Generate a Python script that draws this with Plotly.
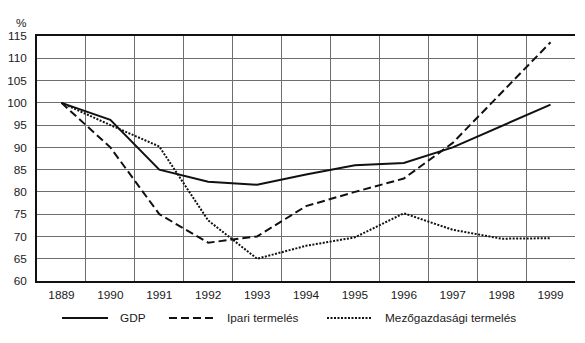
import plotly.graph_objects as go

years = ["1889", "1990", "1991", "1992", "1993", "1994", "1995", "1996", "1997", "1998", "1999"]
gdp = [100, 96.2, 85, 82.3, 81.6, 83.9, 86, 86.5, 90, 94.8, 99.6]
ipari = [100, 90, 75, 68.6, 70, 76.8, 80, 83, 91, 102.2, 113.6]
mezo = [100, 95, 90.2, 73.6, 65, 67.9, 69.8, 75.2, 71.5, 69.5, 69.6]
series_names = ["GDP", "Ipari termelés", "Mezőgazdasági termelés"]

FONT = "Liberation Sans, Arial, sans-serif"
FS = 11.8
styles = [
    dict(color="#111111", width=2, dash="solid"),
    dict(color="#111111", width=2, dash="8px,4px"),
    dict(color="#111111", width=2, dash="2px,1.5px"),
]

fig = go.Figure()
for name, vals, st in zip(series_names, [gdp, ipari, mezo], styles):
    fig.add_trace(go.Scatter(x=years, y=vals, mode="lines", name=name, line=st,
                             showlegend=False))

# manual legend (plot area: x 37..575 px, y 36..281 px)
L, W, B, H = 37, 538, 281, 245
def px(x):
    return (x - L) / W
def py(y):
    return (B - y) / H

leg_items = [(62, 108, 118), (169, 215, 225), (327, 372, 383)]
for (x0, x1, tx), name, st in zip(leg_items, series_names, styles):
    fig.add_shape(type="line", xref="paper", yref="paper",
                  x0=px(x0), x1=px(x1), y0=py(318), y1=py(318),
                  line=dict(color=st["color"], width=st["width"], dash=st["dash"]))
    fig.add_annotation(xref="paper", yref="paper", x=px(tx), y=py(318),
                       text=name, showarrow=False, xanchor="left", yanchor="middle",
                       font=dict(family=FONT, size=FS, color="#1a1a1a"))

fig.add_annotation(xref="paper", yref="paper", x=px(21), y=py(23), text="%",
                   showarrow=False, xanchor="center", yanchor="middle",
                   font=dict(family=FONT, size=FS, color="#1a1a1a"))

fig.update_layout(
    width=585, height=343,
    margin=dict(l=37, r=10, t=36, b=62, autoexpand=False),
    paper_bgcolor="white", plot_bgcolor="white",
    font=dict(family=FONT, size=FS, color="#1a1a1a"),
    xaxis=dict(type="category", tickson="boundaries", showgrid=True, automargin=False,
               gridcolor="#6e6e6e", gridwidth=1.3, showline=True, linecolor="#111111",
               linewidth=1.5, mirror=True, ticks="", ticklabelstandoff=2,
               range=[-0.5, 10.5], tickfont=dict(size=FS)),
    yaxis=dict(range=[60, 115], dtick=5, tick0=60, showgrid=True, automargin=False,
               gridcolor="#6e6e6e", gridwidth=1.3, showline=True, linecolor="#111111",
               linewidth=1.5, ticks="", ticklabelstandoff=6, zeroline=False,
               tickfont=dict(size=FS)),
)

fig.write_html("out.html")
